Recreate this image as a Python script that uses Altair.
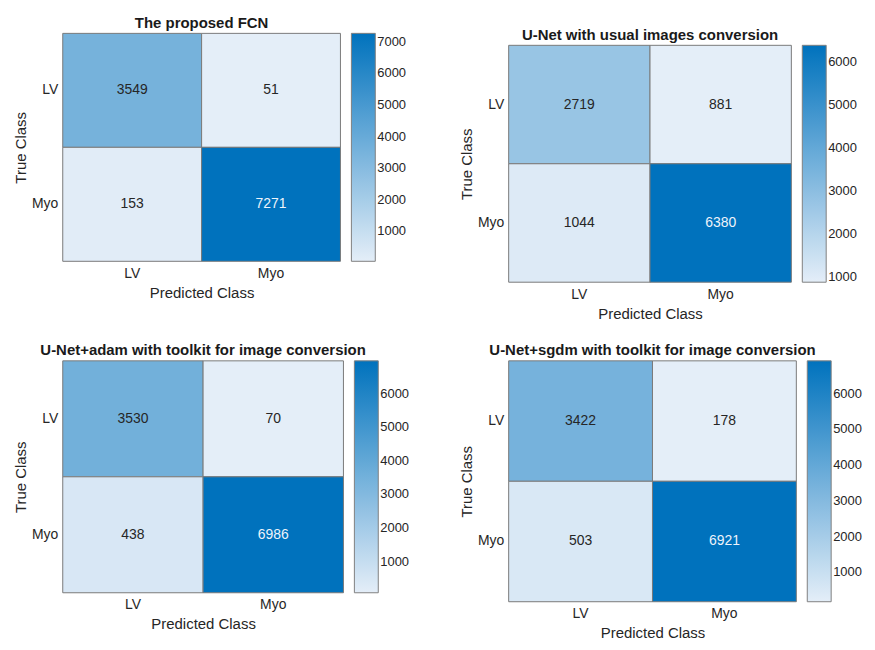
import altair as alt
import pandas as pd

# ---------------- data ----------------
classes = ["LV", "Myo"]
true_labels = ["LV", "LV", "Myo", "Myo"]
pred_labels = ["LV", "Myo", "LV", "Myo"]

titles = [
    "The proposed FCN",
    "U-Net with usual images conversion",
    "U-Net+adam with toolkit for image conversion",
    "U-Net+sgdm with toolkit for image conversion",
]
cm_fcn = [3549, 51, 153, 7271]
cm_unet = [2719, 881, 1044, 6380]
cm_adam = [3530, 70, 438, 6986]
cm_sgdm = [3422, 178, 503, 6921]

ticks_fcn = [1000, 2000, 3000, 4000, 5000, 6000, 7000]
ticks_unet = [1000, 2000, 3000, 4000, 5000, 6000]
ticks_adam = [1000, 2000, 3000, 4000, 5000, 6000]
ticks_sgdm = [1000, 2000, 3000, 4000, 5000, 6000]

FONT = "Liberation Sans"
LIGHT = "#E4EEF8"
DARK = "#0072BD"
TXT = "#262626"


def panel(title, values, ticks, w, h):
    df = pd.DataFrame({"true": true_labels, "pred": pred_labels, "v": values})
    vmin, vmax = min(values), max(values)
    thr = vmin + 0.6 * (vmax - vmin)
    xenc = alt.X("pred:N", sort=classes, title="Predicted Class",
                 scale=alt.Scale(paddingInner=0, paddingOuter=0))
    yenc = alt.Y("true:N", sort=classes, title="True Class",
                 scale=alt.Scale(paddingInner=0, paddingOuter=0))
    rect = alt.Chart(df).mark_rect(stroke="#7a7a7a", strokeWidth=1).encode(
        x=xenc,
        y=yenc,
        color=alt.Color(
            "v:Q",
            scale=alt.Scale(domain=[vmin, vmax], range=[LIGHT, DARK], interpolate="rgb"),
            legend=alt.Legend(
                title=None, values=ticks, gradientLength=h, gradientThickness=24,
                direction="vertical", orient="right", labelOverlap=False,
                format="d", labelBaseline="middle",
            ),
        ),
    )
    text = alt.Chart(df).mark_text(fontSize=14, font=FONT).encode(
        x=xenc,
        y=yenc,
        text=alt.Text("v:Q", format="d"),
        color=alt.condition(f"datum.v > {thr}", alt.value("#EEF4FB"), alt.value(TXT)),
    )
    return alt.layer(rect, text).properties(
        width=w, height=h,
        title=alt.TitleParams(title, fontSize=15, fontWeight="bold", font=FONT,
                              color="#1a1a1a", offset=2, anchor="middle"),
    )


def spacer(h):
    return alt.Chart(pd.DataFrame({"s": [0]})).mark_point(size=0, opacity=0).encode(
        x=alt.value(0), y=alt.value(0)
    ).properties(width=10, height=h)


p1 = panel(titles[0], cm_fcn, ticks_fcn, 279, 229)
p2 = panel(titles[1], cm_unet, ticks_unet, 284, 238)
p3 = panel(titles[2], cm_adam, ticks_adam, 282, 233)
p4 = panel(titles[3], cm_sgdm, ticks_sgdm, 289, 242)

top_left = alt.vconcat(spacer(1), p1, spacing=0).resolve_scale(color="independent")
top_right = alt.vconcat(spacer(13), p2, spacing=0).resolve_scale(color="independent")
left = alt.vconcat(top_left, p3, spacing=43).resolve_scale(color="independent")
right = alt.vconcat(top_right, p4, spacing=22).resolve_scale(color="independent")

chart = (
    alt.hconcat(left, right, spacing=50)
    .resolve_scale(color="independent")
    .configure(font=FONT, background="white")
    .configure_view(stroke=None)
    .configure_axis(
        labelFont=FONT, titleFont=FONT, labelFontSize=14, titleFontSize=15,
        labelColor=TXT, titleColor=TXT, domain=False, ticks=False,
        titleFontWeight="normal", labelAngle=0,
    )
    .configure_axisX(labelPadding=5, titlePadding=5)
    .configure_axisY(labelPadding=5, titlePadding=3)
    .configure_legend(
        offset=11, padding=0, labelFont=FONT, labelFontSize=13, labelColor=TXT,
        labelOffset=7, gradientStrokeColor="#808080", gradientStrokeWidth=1,
    )
)

chart.save("out.html", embed_options={"renderer": "svg", "actions": False})
